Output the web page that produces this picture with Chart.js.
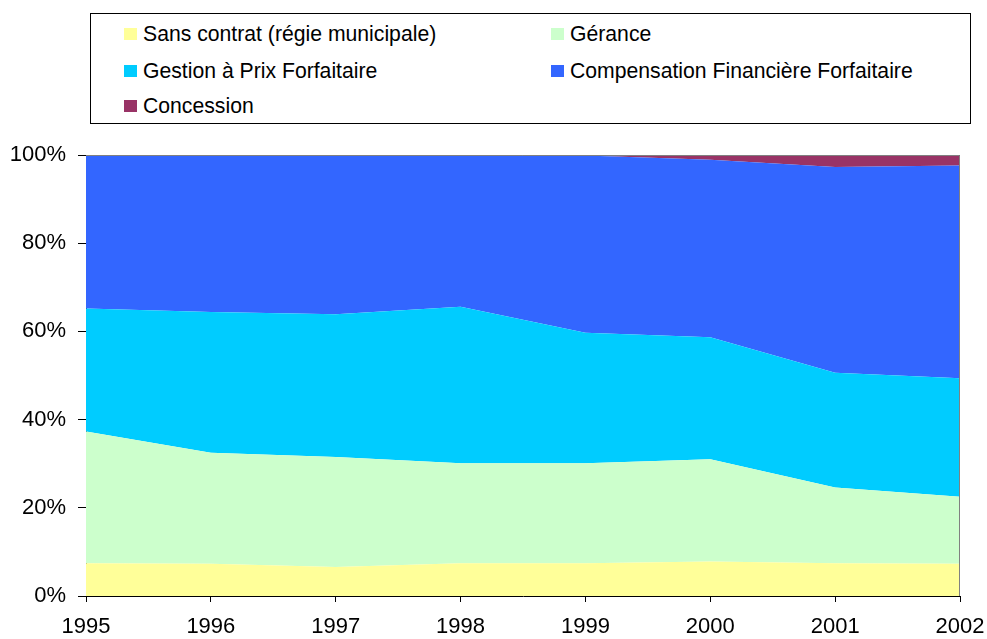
<!DOCTYPE html>
<html>
<head>
<meta charset="utf-8">
<script src="https://cdn.jsdelivr.net/npm/chart.js@4.4.1/dist/chart.umd.min.js"></script>
<style>
  html, body { margin: 0; padding: 0; background: #fff; }
  #wrap { position: relative; width: 987px; height: 639px; }
  #c { position: absolute; left: 0; top: 0; }
  #legend { position: absolute; left: 90px; top: 13px; width: 881px; height: 111px;
            border: 1px solid #000; box-sizing: border-box; background: #fff;
            font-family: "Liberation Sans", Arial, sans-serif; font-size: 21.2px; color: #000; }
  .item { position: absolute; white-space: nowrap; line-height: 24px; }
  .sw { position: absolute; width: 13px; height: 12px; top: 6px; left: -19px; }
</style>
</head>
<body>
<div id="wrap">
  <canvas id="c" width="987" height="639"></canvas>
  <div id="legend"></div>
</div>
<script>
const years = ['1995', '1996', '1997', '1998', '1999', '2000', '2001', '2002'];
const sansContrat = [7.4, 7.3, 6.6, 7.4, 7.4, 7.8, 7.4, 7.3];
const gerance = [29.9, 25.2, 24.9, 22.7, 22.7, 23.2, 17.2, 15.2];
const gestionPrixForfaitaire = [27.9, 31.9, 32.4, 35.5, 29.6, 27.7, 26.0, 26.9];
const compensationFinanciere = [34.8, 35.6, 36.1, 34.4, 40.2, 40.2, 46.7, 48.2];
const concession = [0, 0, 0, 0, 0.1, 1.1, 2.7, 2.4];
const yTicks = [0, 20, 40, 60, 80, 100];

const seriesNames = ['Sans contrat (régie municipale)', 'Gérance', 'Gestion à Prix Forfaitaire',
                     'Compensation Financière Forfaitaire', 'Concession'];
const seriesColors = ['#FFFF99', '#CCFFCC', '#00CCFF', '#3366FF', '#993366'];
const seriesData = [sansContrat, gerance, gestionPrixForfaitaire, compensationFinanciere, concession];

// HTML legend (two columns)
const legendPos = [[52, 8], [479, 8], [52, 45], [479, 45], [52, 80]];
const legend = document.getElementById('legend');
seriesNames.forEach((n, i) => {
  const d = document.createElement('div');
  d.className = 'item';
  d.style.left = legendPos[i][0] + 'px';
  d.style.top = legendPos[i][1] + 'px';
  const s = document.createElement('span');
  s.className = 'sw';
  s.style.background = seriesColors[i];
  d.appendChild(s);
  d.appendChild(document.createTextNode(n));
  legend.appendChild(d);
});

const plotBorder = {
  id: 'plotBorder',
  afterDatasetsDraw(chart) {
    const a = chart.chartArea, ctx = chart.ctx;
    ctx.save();
    ctx.strokeStyle = '#808080';
    ctx.lineWidth = 1;
    ctx.beginPath();
    ctx.moveTo(a.left, a.top + 0.5);
    ctx.lineTo(a.right - 0.5, a.top + 0.5);
    ctx.lineTo(a.right - 0.5, a.bottom);
    ctx.stroke();
    ctx.restore();
  }
};

const font = { family: '"Liberation Sans", Arial, sans-serif', size: 22 };

new Chart(document.getElementById('c'), {
  type: 'line',
  data: {
    labels: years,
    datasets: seriesData.map((d, i) => ({
      label: seriesNames[i],
      data: d,
      backgroundColor: seriesColors[i],
      borderColor: seriesColors[i],
      borderWidth: 0,
      pointRadius: 0,
      tension: 0,
      fill: i === 0 ? 'origin' : '-1'
    }))
  },
  options: {
    responsive: false,
    animation: false,
    events: [],
    layout: { padding: { left: 0, right: 27, top: 155, bottom: 0 } },
    plugins: { legend: { display: false }, tooltip: { enabled: false } },
    scales: {
      x: {
        offset: false,
        grid: { drawOnChartArea: false, tickLength: 6, color: '#000' },
        border: { color: '#000', width: 1 },
        ticks: { color: '#000', font: font, padding: 12, maxRotation: 0 },
        afterFit(s) { s.height = 43; s.paddingLeft = 0; s.paddingRight = 0; }
      },
      y: {
        stacked: true,
        min: 0,
        max: 100,
        afterBuildTicks(s) { s.ticks = yTicks.map(v => ({ value: v })); },
        grid: { drawOnChartArea: false, tickLength: 8, color: '#000' },
        border: { color: '#000', width: 1 },
        ticks: { color: '#000', font: font, padding: 12, callback: v => v + '%' },
        afterFit(s) { s.width = 86; s.paddingTop = 0; s.paddingBottom = 0; }
      }
    }
  },
  plugins: [plotBorder]
});
</script>
</body>
</html>
